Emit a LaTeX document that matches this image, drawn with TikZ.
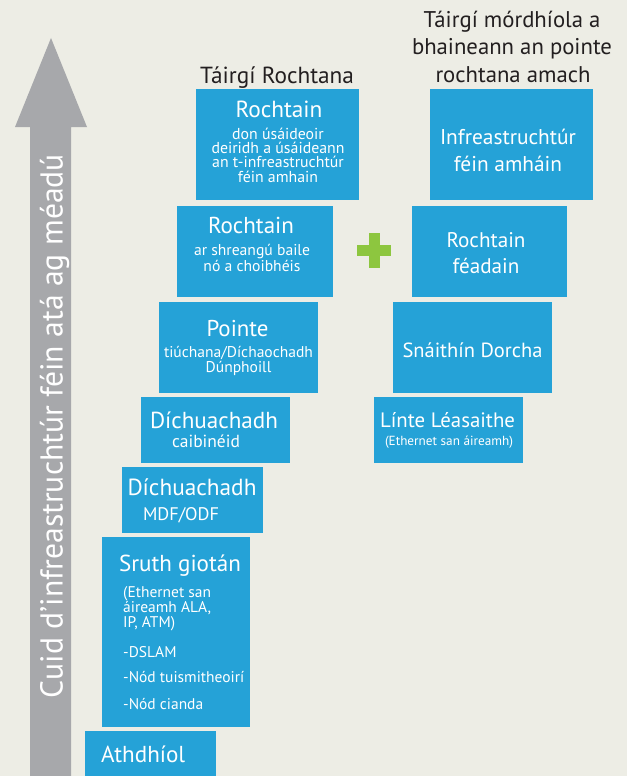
\documentclass[tikz,border=0pt]{standalone}
\usepackage{fontspec}
\setmainfont{PT Sans}
\definecolor{bgc}{HTML}{EDEDE5}
\definecolor{boxc}{HTML}{25A2D7}
\definecolor{arrc}{HTML}{A7A8AB}
\definecolor{plusc}{HTML}{8DC63F}
\definecolor{titc}{HTML}{231F20}
\newlength\fitw
\newcommand\ft[4]{%
  \settowidth\fitw{\fontsize{50}{50}\selectfont #3}%
  \ifdim\fitw<1pt \def\cfs{#2}\else\pgfmathsetmacro\cfs{(#1/\fitw)*50}\fi
  \fontsize{\cfs}{\cfs}\selectfont #4}
\begin{document}
\begin{tikzpicture}[x=1pt,y=-1pt,
  blk/.style={fill=boxc, draw=none, inner sep=0pt, outer sep=0pt, rectangle, anchor=north west},
  wt/.style={text=white, anchor=base, inner sep=0pt},
  wtl/.style={wt, anchor=base west},
  title/.style={text=titc, anchor=base, inner sep=0pt}]
\useasboundingbox (0,0) rectangle (627,776);
\fill[bgc] (0,0) rectangle (627,776);
% arrow
\fill[arrc] (30,776) -- (30,127) -- (15,127) -- (51,38) -- (87,127) -- (71,127) -- (71,776) -- cycle;
\node[wt, rotate=90] (arrtxt) at (62.5,426) {\ft{544}{27.3}{Cuid d'infreastruchtúr féin atá ag méadú}{Cuid d'infreastruchtúr féin atá ag méadú}};
% titles
\node[title] (tl) at (277,83) {\ft{154}{23}{Táirgí Rochtana}{Táirgí Rochtana}};
\node[title] (tr1) at (512,28) {\ft{200}{23}{bhaineann an pointe}{Táirgí mórdhíola a}};
\node[title] (tr2) at (512,55) {\ft{200}{23}{bhaineann an pointe}{bhaineann an pointe}};
\node[title] (tr3) at (513,82) {\ft{200}{23}{bhaineann an pointe}{rochtana amach}};
% left boxes
\node[blk, minimum width=163pt, minimum height=111pt] (b1) at (196,89) {};
\node[blk, minimum width=156pt, minimum height=91pt] (b2) at (177,206) {};
\node[blk, minimum width=159pt, minimum height=91pt] (b3) at (159,302) {};
\node[blk, minimum width=149pt, minimum height=66pt] (b4) at (141,397) {};
\node[blk, minimum width=141pt, minimum height=66pt] (b5) at (122,467) {};
\node[blk, minimum width=148pt, minimum height=190pt] (b6) at (102,537) {};
\node[blk, minimum width=131pt, minimum height=46pt] (b7) at (85,731) {};
% right boxes
\node[blk, minimum width=163pt, minimum height=111pt] (r1) at (430,89) {};
\node[blk, minimum width=155pt, minimum height=91pt] (r2) at (412,206) {};
\node[blk, minimum width=159pt, minimum height=91pt] (r3) at (393,302) {};
\node[blk, minimum width=149pt, minimum height=66pt] (r4) at (374,397) {};
% plus
\fill[plusc] (357,245) rectangle (391,255.5);
\fill[plusc] (369,233) rectangle (379.5,268);
% texts b1
\node[wt] (b1a) at (279,117) {\ft{87}{23}{Rochtain}{Rochtain}};
\node[wt] (b1b) at (278,139) {\ft{133}{17.5}{deiridh a úsáideann}{don úsáideoir}};
\node[wt] (b1c) at (278,153.3) {\ft{133}{17.5}{deiridh a úsáideann}{deiridh a úsáideann}};
\node[wt] (b1d) at (278,167.6) {\ft{133}{17.5}{deiridh a úsáideann}{an t-infreastruchtúr}};
\node[wt] (b1e) at (278,182) {\ft{133}{17.5}{deiridh a úsáideann}{féin amhain}};
% b2
\node[wt] (b2a) at (251,233) {\ft{86}{23}{Rochtain}{Rochtain}};
\node[wt] (b2b) at (252,255) {\ft{116}{17}{ar shreangú baile}{ar shreangú baile}};
\node[wt] (b2c) at (252,271) {\ft{116}{17}{ar shreangú baile}{nó a choibhéis}};
% b3
\node[wt] (b3a) at (237.5,336) {\ft{62}{23}{Pointe}{Pointe}};
\node[wt] (b3b) at (238.5,357) {\ft{149}{15}{tiúchana/Díchaochadh}{tiúchana/Díchaochadh}};
\node[wt] (b3c) at (238.5,372) {\ft{149}{15}{tiúchana/Díchaochadh}{Dúnphoill}};
% b4
\node[wt] (b4a) at (214,428) {\ft{128}{23}{Díchuachadh}{Díchuachadh}};
\node[wt] (b4b) at (206,447) {\ft{68}{15.5}{caibinéid}{caibinéid}};
% b5
\node[wt] (b5a) at (192,495) {\ft{129}{23}{Díchuachadh}{Díchuachadh}};
\node[wt] (b5b) at (181,520) {\ft{76}{15.5}{MDF/ODF}{MDF/ODF}};
% b6
\node[wt] (b6a) at (180,571) {\ft{122}{23}{Sruth giotán}{Sruth giotán}};
\node[wtl] (b6b) at (123,597) {\ft{121}{15}{-Nód tuismitheoirí}{(Ethernet san}};
\node[wtl] (b6c) at (123,612) {\ft{121}{15}{-Nód tuismitheoirí}{áireamh ALA,}};
\node[wtl] (b6d) at (123,627) {\ft{121}{15}{-Nód tuismitheoirí}{IP, ATM)}};
\node[wtl] (b6e) at (123,657) {\ft{121}{15}{-Nód tuismitheoirí}{-DSLAM}};
\node[wtl] (b6f) at (123,682) {\ft{121}{15}{-Nód tuismitheoirí}{-Nód tuismitheoirí}};
\node[wtl] (b6g) at (123,709) {\ft{121}{15}{-Nód tuismitheoirí}{-Nód cianda}};
% b7
\node[wtl] (b7a) at (101,762) {\ft{84}{23}{Athdhíol}{Athdhíol}};
% right texts
\node[wt] (r1a) at (508,144) {\ft{136}{20.5}{Infreastruchtúr}{Infreastruchtúr}};
\node[wt] (r1b) at (508,171) {\ft{136}{20.5}{Infreastruchtúr}{féin amháin}};
\node[wt] (r2a) at (486,247) {\ft{79}{20.5}{Rochtain}{Rochtain}};
\node[wt] (r2b) at (486,273) {\ft{79}{20.5}{Rochtain}{féadain}};
\node[wt] (r3a) at (472.5,357) {\ft{140}{20.5}{Snáithín Dorcha}{Snáithín Dorcha}};
\node[wt] (r4a) at (447.5,427) {\ft{135}{21}{Línte Léasaithe}{Línte Léasaithe}};
\node[wt] (r4b) at (449,445) {\ft{128}{12}{(Ethernet san áireamh)}{(Ethernet san áireamh)}};
\end{tikzpicture}
\end{document}
